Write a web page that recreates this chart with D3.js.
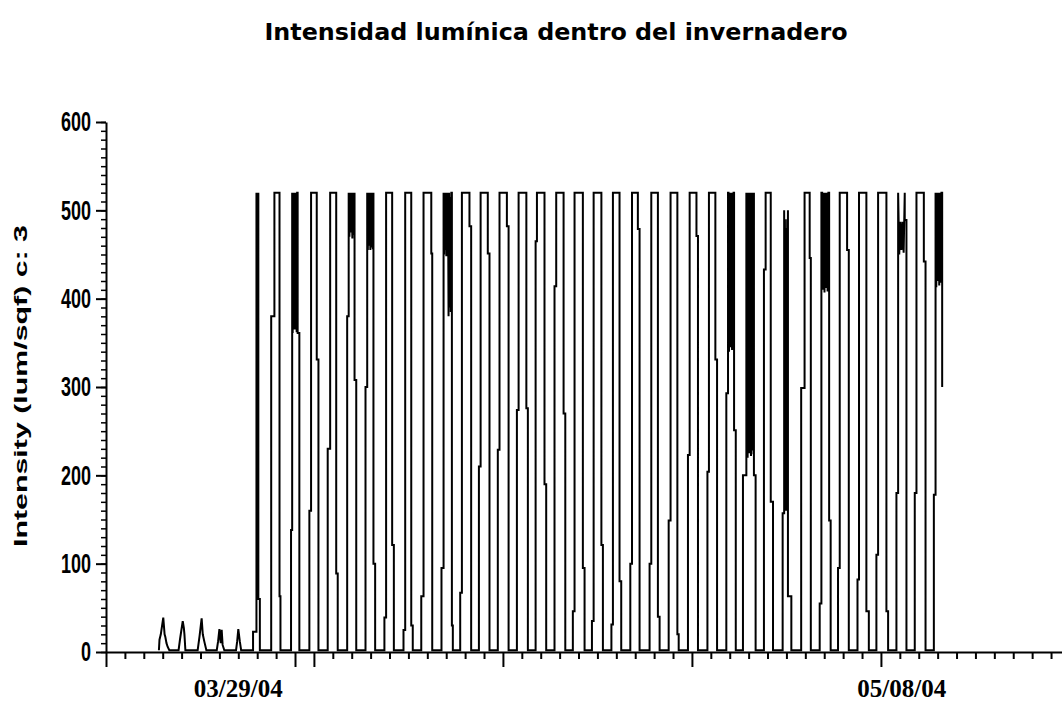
<!DOCTYPE html>
<html><head><meta charset="utf-8">
<script src="https://cdn.jsdelivr.net/npm/d3@7"></script>
<style>body{margin:0;background:#fff}</style>
</head><body>
<svg id="c" width="1062" height="704"></svg>
<script>
// ---------- texts ----------
const chartTitle = "Intensidad lumínica dentro del invernadero";
const yTitle = "Intensity (lum/sqf) c: 3";
const yTickValues = [0, 100, 200, 300, 400, 500, 600];
const xTickDays = d3.range(0, 51);
const xMajorDays = [0, 10, 11, 21, 31, 41];
const xLabels = ["03/29/04", "05/08/04"];
const xLabelDays = [7.0, 42.1];

// ---------- data (day index, intensity) ----------
const nightValue = 2;
// small early bumps
const bumpDay = [2.80, 2.83, 2.90, 3.03, 3.10, 3.14, 3.20, 3.26, 3.35,
  3.84, 3.92, 4.06, 4.12, 4.15, 4.20,
  4.85, 4.95, 5.06, 5.12, 5.20, 5.31,
  5.86, 5.93, 6.00, 6.07, 6.12, 6.17, 6.26,
  6.88, 6.94, 7.00, 7.08, 7.15];
const bumpValue = [2, 14, 20, 39, 20, 17, 10, 6, 2,
  2, 15, 35, 27, 20, 2,
  2, 18, 38, 20, 12, 2,
  2, 12, 26, 10, 25, 8, 2,
  2, 12, 26, 12, 2];
// daily pulses
const riseBottom = [7.78, 8.74, 9.79, 10.76, 11.73, 12.76, 13.73, 14.73, 15.74, 16.68,
  17.75, 18.74, 19.73, 20.73, 21.74, 22.73, 23.73, 24.70, 25.71, 26.74,
  27.74, 28.76, 29.77, 30.79, 31.82, 32.82, 33.70, 34.81, 35.80, 36.78,
  37.76, 38.73, 39.76, 40.76, 41.82, 42.79, 43.80];
const riseTop = [7.96, 8.91, 9.85, 10.85, 11.86, 12.84, 13.82, 14.82, 15.83, 16.80,
  17.86, 18.83, 19.82, 20.82, 21.83, 22.80, 23.82, 24.79, 25.80, 26.82,
  27.83, 28.85, 29.87, 30.88, 31.90, 32.91, 33.88, 34.90, 35.88, 36.96,
  37.85, 38.82, 39.84, 40.85, 41.91, 42.88, 43.89];
const riseJog = [23, 380, 138, 160, 230, 380, 300, 39, 25, 63,
  95, 67, 210, 229, 274, 465, 414, 46, 35, 31,
  100, 100, 149, 223, 204, 293, 200, 433, 157, 299,
  55, 95, 82, 110, 180, 180, 178];
const peakValue = [520, 520, 520, 520, 520, 520, 520, 520, 520, 520,
  520, 520, 520, 520, 520, 520, 520, 520, 520, 520,
  520, 520, 520, 520, 520, 520, 520, 520, 500, 520,
  520, 520, 520, 520, 520, 520, 520];
const fallTop = [8.06, 9.18, 10.14, 11.15, 12.18, 13.15, 14.15, 15.14, 16.15, 17.21,
  18.30, 19.23, 20.20, 21.21, 22.24, 23.20, 24.21, 25.23, 26.21, 27.17,
  28.14, 29.20, 30.23, 31.24, 32.24, 33.23, 34.28, 35.17, 36.08, 37.23,
  38.26, 39.21, 40.23, 41.29, 42.26, 43.27, 44.24];
const fallJog = [60, 63, 361, 331, 89, 308, 100, 121, 30, 451,
  30, 482, 451, 482, 276, 190, 270, 95, 121, 80,
  479, 40, 20, 471, 331, 251, 200, 170, 63, 446,
  149, 455, 46, 46, 489, 442, 413];
const fallBottom = [8.14, 9.23, 10.23, 11.24, 12.26, 13.24, 14.24, 15.23, 16.23, 17.26,
  18.35, 19.32, 20.29, 21.30, 22.32, 23.29, 24.30, 25.32, 26.29, 27.26,
  28.23, 29.29, 30.30, 31.32, 32.33, 33.32, 34.37, 35.29, 36.26, 37.29,
  38.34, 39.30, 40.36, 41.38, 42.35, 43.36, 44.24];
// rapid oscillations seen as solid black blocks (pulse index -> values)
const topNoise = {
  0: [100, 520, 210, 500, 95, 400, 520, 120, 300, 520, 95, 500, 110],
  2: [361, 520, 380, 520, 365, 520, 370, 520, 362, 520],
  5: [470, 520, 475, 520, 468, 520, 472],
  6: [455, 520, 460, 520, 455, 520, 458, 520, 456],
  10: [450, 520, 455, 520, 448, 520, 452, 520, 380, 520, 390, 515, 385, 520],
  25: [520, 340, 515, 350, 520, 345, 520, 342, 518, 348, 520],
  26: [230, 520, 220, 515, 240, 520, 225, 520, 235, 520, 222, 518, 228, 520, 232, 520, 224],
  28: [160, 490, 350, 480, 160, 470, 260, 490, 200],
  30: [520, 410, 520, 407, 520, 412, 520, 408, 520],
  34: [450, 487, 455, 487, 452],
  36: [413, 520, 420, 520, 415, 520, 418, 520]
};
const lastValue = 300;

// ---------- build series ----------
const series = [];
bumpDay.forEach((d, i) => series.push([d, bumpValue[i]]));
riseBottom.forEach((rb, i) => {
  const isLast = i === riseBottom.length - 1;
  series.push([rb, nightValue], [rb, riseJog[i]], [riseTop[i], riseJog[i]], [riseTop[i], peakValue[i]]);
  const nz = topNoise[i] || [];
  nz.forEach((v, j) => series.push([riseTop[i] + (fallTop[i] - riseTop[i]) * (j + 1) / (nz.length + 1), v]));
  series.push([fallTop[i], peakValue[i]], [fallTop[i], fallJog[i]], [fallBottom[i], fallJog[i]]);
  series.push([fallBottom[i], isLast ? lastValue : nightValue]);
});

// ---------- drawing ----------
const svg = d3.select("#c");
svg.append("rect").attr("width", 1062).attr("height", 704).attr("fill", "#fff");

const x = d3.scaleLinear().domain([0, 50.58]).range([106, 1062]);
const y = d3.scaleLinear().domain([0, 600]).range([652, 122]);

// title
svg.append("text").text(chartTitle)
  .attr("x", 556).attr("y", 40).attr("text-anchor", "middle")
  .attr("font-family", "DejaVu Sans, Verdana, sans-serif").attr("font-weight", "bold")
  .attr("font-size", 23).attr("textLength", 583).attr("lengthAdjust", "spacingAndGlyphs")
  .attr("fill", "#000");

// y axis title
svg.append("text").text(yTitle)
  .attr("transform", "translate(27,386) rotate(-90)")
  .attr("text-anchor", "middle")
  .attr("font-family", "Liberation Sans, Arial, sans-serif").attr("font-weight", "bold")
  .attr("font-size", 19).attr("textLength", 322).attr("lengthAdjust", "spacingAndGlyphs")
  .attr("fill", "#000");

// data line
svg.append("path").datum(series)
  .attr("fill", "none").attr("stroke", "#000").attr("stroke-width", 2)
  .attr("d", d3.line().x(d => x(d[0])).y(d => y(d[1])));

// y axis (minor)
const yMinor = svg.append("g").attr("transform", `translate(${x(0)},0)`)
  .call(d3.axisLeft(y).tickValues(d3.range(0, 601, 10)).tickSize(5).tickSizeOuter(0).tickFormat(""));
yMinor.select(".domain").attr("stroke-width", 2);
yMinor.selectAll(".tick line").attr("stroke-width", 1.5);

// y axis (major)
const yMajor = svg.append("g").attr("transform", `translate(${x(0)},0)`)
  .call(d3.axisLeft(y).tickValues(yTickValues).tickSize(10).tickSizeOuter(0).tickPadding(5));
yMajor.select(".domain").remove();
yMajor.selectAll(".tick line").attr("stroke-width", 2);
yMajor.selectAll(".tick text")
  .attr("font-family", "Liberation Sans, Arial, sans-serif").attr("font-weight", "bold")
  .attr("font-size", 18).attr("fill", "#000")
  .attr("transform", "scale(1,1.55)");

// x axis
const xAxisG = svg.append("g").attr("transform", `translate(0,${y(0)})`)
  .call(d3.axisBottom(x).tickValues(xTickDays).tickSize(7).tickSizeOuter(0).tickFormat(""));
xAxisG.select(".domain").attr("stroke-width", 2);
xAxisG.selectAll(".tick line").attr("stroke-width", 2)
  .attr("y2", d => xMajorDays.includes(d) ? 15 : 7);

// x labels
svg.selectAll("text.xl").data(xLabels).join("text").attr("class", "xl")
  .text(d => d)
  .attr("x", (d, i) => x(xLabelDays[i])).attr("y", 697)
  .attr("text-anchor", "middle")
  .attr("font-family", "Liberation Serif, Times New Roman, serif").attr("font-weight", "bold")
  .attr("font-size", 25).attr("fill", "#000");
</script>
</body></html>
